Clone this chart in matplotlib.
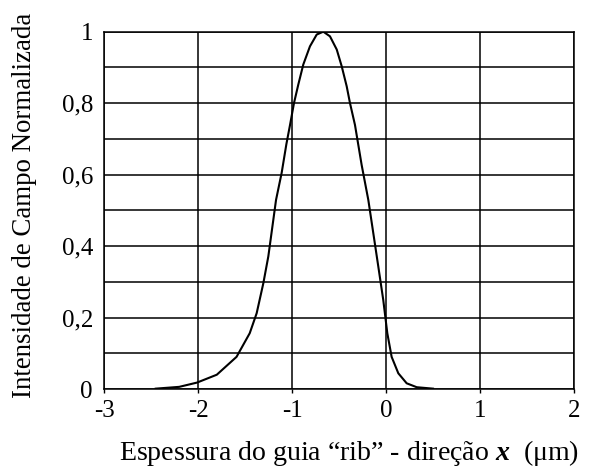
import numpy as np
import matplotlib.pyplot as plt
from matplotlib.ticker import MultipleLocator, FuncFormatter

plt.rcParams['font.family'] = 'Liberation Serif'
plt.rcParams['mathtext.fontset'] = 'custom'
plt.rcParams['mathtext.bf'] = 'Liberation Serif:italic:bold'
plt.rcParams['mathtext.rm'] = 'Liberation Serif'
plt.rcParams['axes.unicode_minus'] = False

# field profile of the rib guide along x
x_um = [-2.45, -2.20, -2.01, -1.80, -1.59, -1.45, -1.376, -1.305, -1.252, -1.199,
        -1.17, -1.11, -1.06, -1.021, -0.979, -0.933, -0.88, -0.809, -0.737, -0.667,
        -0.596, -0.524, -0.471, -0.418, -0.383, -0.33, -0.259, -0.188, -0.135, -0.082,
        -0.029, 0.014, 0.06, 0.131, 0.22, 0.327, 0.50]
intensity = [0.001, 0.006, 0.018, 0.040, 0.090, 0.156, 0.212, 0.296, 0.371, 0.473,
             0.529, 0.605, 0.685, 0.739, 0.800, 0.852, 0.908, 0.959, 0.992, 1.0,
             0.987, 0.950, 0.903, 0.847, 0.800, 0.739, 0.627, 0.529, 0.436, 0.343,
             0.249, 0.156, 0.090, 0.044, 0.016, 0.005, 0.001]

x_ticks = [-3, -2, -1, 0, 1, 2]
y_ticks = [0, 0.2, 0.4, 0.6, 0.8, 1.0]

fig = plt.figure(figsize=(5.89, 4.68), dpi=100)
ax = fig.add_axes([0.1766, 0.1688, 0.7979, 0.7635])

ax.plot(x_um, intensity, color='black', lw=1.5)

ax.set_xlim(-3, 2)
ax.set_ylim(0, 1)
ax.set_xticks(x_ticks)
ax.set_yticks(y_ticks)
ax.yaxis.set_minor_locator(MultipleLocator(0.1))
ax.yaxis.set_major_formatter(FuncFormatter(lambda v, p: ('%g' % v).replace('.', ',')))
ax.grid(True, which='both', color='black', lw=1.1)
ax.tick_params(axis='x', which='major', length=3, width=1, direction='out', pad=5, labelsize=18)
ax.tick_params(axis='y', which='both', length=0, pad=8, labelsize=18)
for s in ax.spines.values():
    s.set_linewidth(1.1)

ax.set_xlabel(r'Espessura do guia “rib” - direção $\mathbf{x}$  (μm)', fontsize=20.1)
ax.set_ylabel('Intensidade de Campo Normalizada', fontsize=19.4)
ax.xaxis.set_label_coords(0.521, -0.136)
ax.yaxis.set_label_coords(-0.143, 0.513)

fig.savefig('out.png', dpi=100)
